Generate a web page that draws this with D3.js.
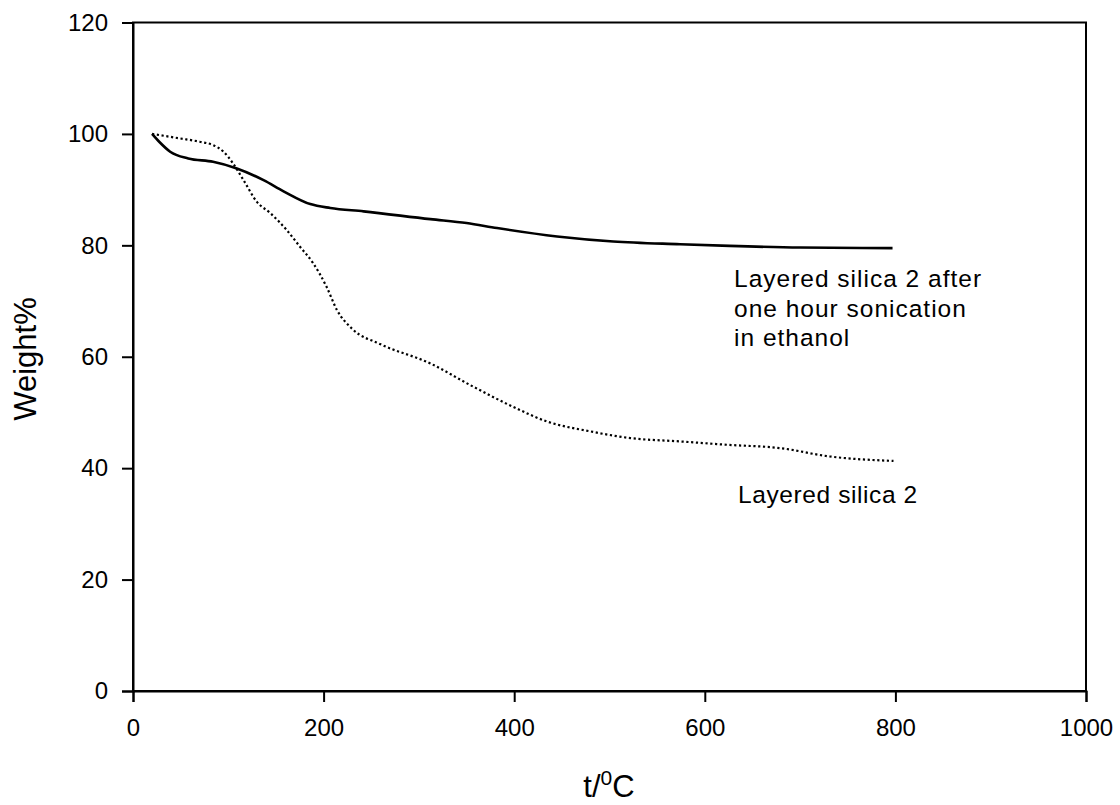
<!DOCTYPE html>
<html>
<head>
<meta charset="utf-8">
<script src="https://cdn.jsdelivr.net/npm/d3@7"></script>
<style>
  body { margin: 0; background: #fff; }
  svg text { font-family: Arial, "Liberation Sans", sans-serif; fill: #000; }
</style>
</head>
<body>
<div id="chart"></div>
<script>
// weight% vs temperature
var sonicT = [20, 28, 39, 58, 84, 109, 137, 158, 186, 207, 242, 312, 350, 382, 445, 504, 574, 626, 700, 797];
var sonicW = [100, 98.5, 96.8, 95.6, 95.0, 93.8, 91.7, 89.7, 87.4, 86.7, 86.1, 84.7, 84.0, 83.1, 81.6, 80.7, 80.2, 79.9, 79.6, 79.5];

var silicaT = [20, 49, 70, 84, 95, 105, 116, 130, 144, 161, 175, 189, 203, 214, 230, 259, 312, 354, 399, 434, 480, 522, 574, 623, 679, 731, 798];
var silicaW = [100, 99.2, 98.6, 98.0, 96.8, 94.7, 91.7, 87.8, 85.8, 82.8, 79.8, 76.8, 72.6, 68.4, 65.0, 62.3, 58.8, 54.9, 51.0, 48.4, 46.6, 45.4, 44.8, 44.2, 43.6, 42.1, 41.3];

var xTicks = [0, 200, 400, 600, 800, 1000];
var yTicks = [0, 20, 40, 60, 80, 100, 120];

var width = 1120, height = 805;
var mLeft = 133, mRight = 1086, mTop = 22.5, mBottom = 691;

var svg = d3.select("#chart").append("svg")
    .attr("width", width)
    .attr("height", height);

var x = d3.scaleLinear().domain([0, 1000]).range([mLeft, mRight]);
var y = d3.scaleLinear().domain([0, 120]).range([mBottom, mTop]);

// frame
svg.append("rect")
  .attr("x", mLeft).attr("y", mTop)
  .attr("width", mRight - mLeft).attr("height", mBottom - mTop)
  .attr("fill", "none").attr("stroke", "#000").attr("stroke-width", 2);

var xAxis = svg.append("g")
  .attr("transform", "translate(0," + mBottom + ")")
  .call(d3.axisBottom(x).tickValues(xTicks).tickSize(11).tickPadding(17).tickFormat(d3.format("d")));
var yAxis = svg.append("g")
  .attr("transform", "translate(" + mLeft + ",0)")
  .call(d3.axisLeft(y).tickValues(yTicks).tickSize(11).tickPadding(14).tickFormat(d3.format("d")));

[xAxis, yAxis].forEach(function(g){
  g.select(".domain").attr("stroke-width", 2);
  g.selectAll(".tick line").attr("stroke-width", 2);
  g.selectAll(".tick text").attr("font-size", "24px").attr("font-family", "Arial, 'Liberation Sans', sans-serif").attr("fill", "#000");
});

var line = d3.line()
  .x(function(d){ return x(d[0]); })
  .y(function(d){ return y(d[1]); })
  .curve(d3.curveMonotoneX);

var sonic = sonicT.map(function(t, i){ return [t, sonicW[i]]; });
var silica = silicaT.map(function(t, i){ return [t, silicaW[i]]; });

svg.append("path")
  .datum(sonic)
  .attr("d", line)
  .attr("fill", "none")
  .attr("stroke", "#000")
  .attr("stroke-width", 2.6);

svg.append("path")
  .datum(silica)
  .attr("d", line)
  .attr("fill", "none")
  .attr("stroke", "#000")
  .attr("stroke-width", 2.2)
  .attr("stroke-dasharray", "2.2,2.6");

// annotations
var note = svg.append("text")
  .attr("x", 734)
  .attr("font-size", "24.5px")
  .attr("letter-spacing", "1px");
["Layered silica 2 after", "one hour sonication", "in ethanol"].forEach(function(s, i){
  note.append("tspan").attr("x", 734).attr("y", 287 + i * 29.5).text(s);
});

svg.append("text")
  .attr("x", 738).attr("y", 503)
  .attr("font-size", "24.5px")
  .attr("letter-spacing", "0.6px")
  .text("Layered silica 2");

// axis titles
svg.append("text")
  .attr("transform", "translate(36,359) rotate(-90)")
  .attr("text-anchor", "middle")
  .attr("font-size", "31px")
  .text("Weight%");

var xt = svg.append("text")
  .attr("x", 609).attr("y", 797)
  .attr("text-anchor", "middle")
  .attr("font-size", "31px");
xt.append("tspan").text("t/");
xt.append("tspan").attr("dy", -12).attr("font-size", "21px").text("0");
xt.append("tspan").attr("dy", 12).text("C");
</script>
</body>
</html>
